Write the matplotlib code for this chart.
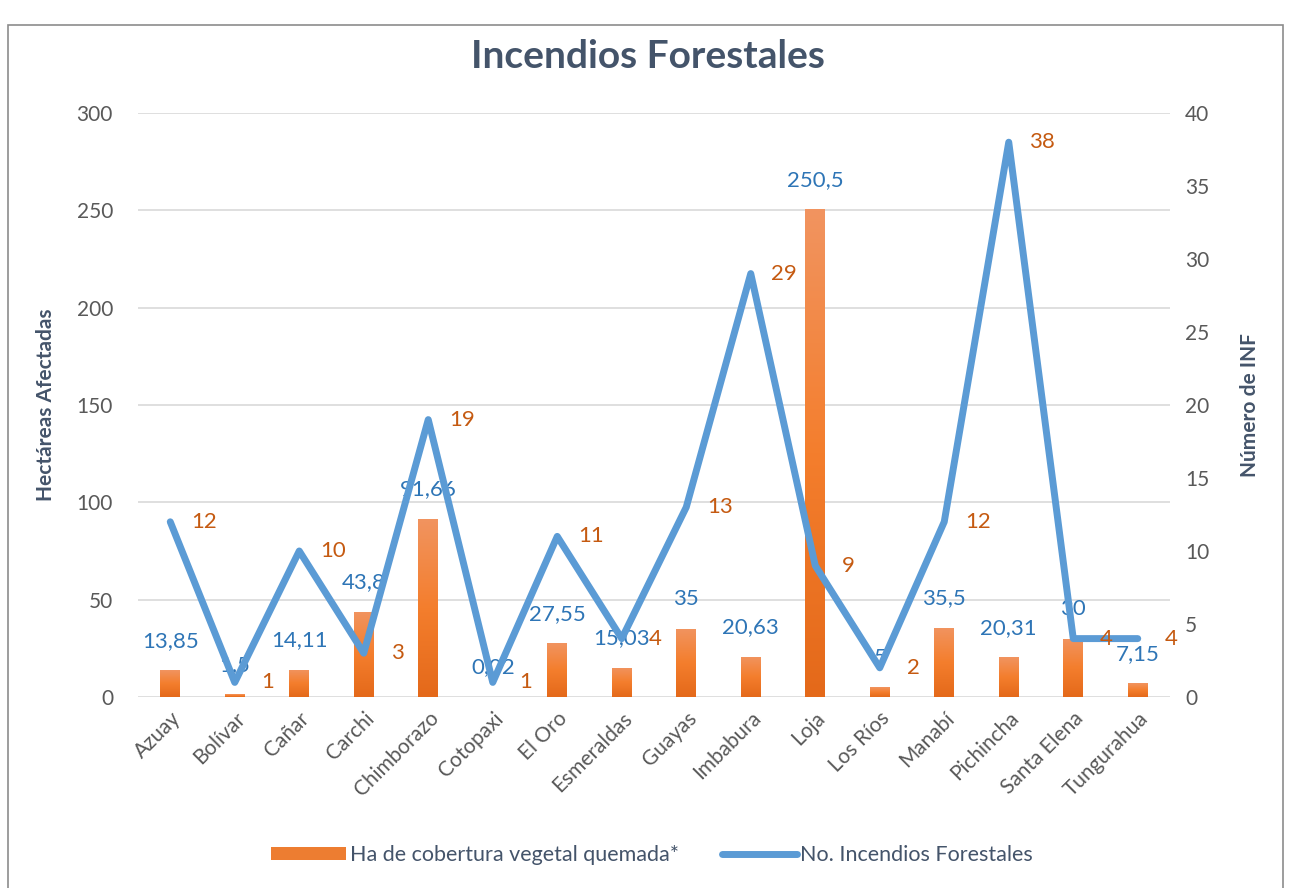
import matplotlib
matplotlib.use("Agg")
import matplotlib.pyplot as plt
import numpy as np
from matplotlib.colors import LinearSegmentedColormap
from matplotlib.patches import Rectangle
from matplotlib.lines import Line2D
from matplotlib.patches import Patch

plt.rcParams['font.family'] = ['Lato', 'DejaVu Sans']

# Data
provincias = ["Azuay", "Bolívar", "Cañar", "Carchi", "Chimborazo", "Cotopaxi",
              "El Oro", "Esmeraldas", "Guayas", "Imbabura", "Loja", "Los Ríos",
              "Manabí", "Pichincha", "Santa Elena", "Tungurahua"]
hectareas = [13.85, 1.5, 14.11, 43.8, 91.66, 0.02, 27.55, 15.03, 35, 20.63,
             250.5, 5, 35.5, 20.31, 30, 7.15]
incendios = [12, 1, 10, 3, 19, 1, 11, 4, 13, 29, 9, 2, 12, 38, 4, 4]

def fmt(v):
    s = ("%g" % v)
    return s.replace(".", ",")

TXT = "#595959"
SLATE = "#44546A"
BLUE = "#5B9BD5"
BLUE_TXT = "#2E75B6"
ORANGE_TXT = "#C55A11"

fig = plt.figure(figsize=(12.91, 8.88), dpi=100)
fig.patch.set_facecolor("white")

# outer frame like the embedded chart box
fig.patches.append(Rectangle((8 / 1291, -0.01), 1275 / 1291, 1 - 25 / 888 + 0.01,
                             transform=fig.transFigure, fill=False,
                             edgecolor="#8c8c8c", linewidth=1.2))

ax = fig.add_axes([138 / 1291, 1 - 697 / 888, 1032 / 1291, 584 / 888])
ax2 = ax.twinx()

x = np.arange(len(provincias))
bars = ax.bar(x, hectareas, width=0.31, color="#ED7D31", zorder=2)

# vertical gradient in each bar
cmap = LinearSegmentedColormap.from_list("naranja", ["#E4691A", "#F47E2D", "#F19460"])
grad = np.linspace(0, 1, 256).reshape(-1, 1)
for b in bars:
    h = b.get_height()
    if h <= 0:
        continue
    im = ax.imshow(grad, extent=[b.get_x(), b.get_x() + b.get_width(), 0, h],
                   origin="lower", cmap=cmap, aspect="auto", zorder=2.1)
    im.set_clip_path(b)

ax.set_xlim(-0.5, len(provincias) - 0.5)
ax.set_ylim(0, 300)
ax.set_yticks(np.arange(0, 301, 50))
ax.grid(axis="y", color="#D9D9D9", linewidth=1.2, zorder=0)
ax.set_axisbelow(True)

for xi, v in zip(x, hectareas):
    ax.annotate(fmt(v), (xi, v), xytext=(0, 14), textcoords="offset points",
                ha="center", va="bottom", color=BLUE_TXT, fontsize=16, zorder=5)

ax2.plot(x, incendios, color=BLUE, linewidth=5, solid_joinstyle="round",
         solid_capstyle="round", zorder=3)
ax2.set_ylim(0, 40)
ax2.set_yticks(np.arange(0, 41, 5))
for xi, v in zip(x, incendios):
    ax2.annotate(str(v), (xi, v), xytext=(24, 0), textcoords="offset points",
                 ha="center", va="center", color=ORANGE_TXT, fontsize=16, zorder=5)

for a in (ax, ax2):
    for s in a.spines.values():
        s.set_visible(False)
    a.tick_params(length=0, labelsize=15, labelcolor=TXT)

ax.set_xticks(x)
ax.set_xticklabels(provincias, rotation=45, ha="right", rotation_mode="anchor")
ax.tick_params(axis="x", pad=8)
ax.tick_params(axis="y", pad=18)
ax2.tick_params(axis="y", pad=11)

ax.set_ylabel("Hectáreas Afectadas", fontsize=15, fontweight="bold", color=SLATE)
ax2.set_ylabel("Número de INF", fontsize=15, fontweight="bold", color=SLATE)
ax.yaxis.set_label_coords(-0.079, 0.5)
ax2.yaxis.set_label_coords(1.068, 0.5)

fig.text(0.502, 1 - 57 / 888, "Incendios Forestales", ha="center", va="center",
         fontsize=28, fontweight="bold", color=SLATE)

handles = [Patch(facecolor="#ED7D31", edgecolor="none"),
           Line2D([0], [0], color=BLUE, linewidth=5, solid_capstyle="round")]
fig.legend(handles, ["Ha de cobertura vegetal quemada*", "No. Incendios Forestales"],
           loc="center", bbox_to_anchor=(0.505, 1 - 855 / 888), ncol=2, frameon=False,
           fontsize=15.5, labelcolor=SLATE, columnspacing=2.0, handlelength=3.5,
           handleheight=0.6, handletextpad=0.15)

fig.savefig("out.png", dpi=100, facecolor="white")
